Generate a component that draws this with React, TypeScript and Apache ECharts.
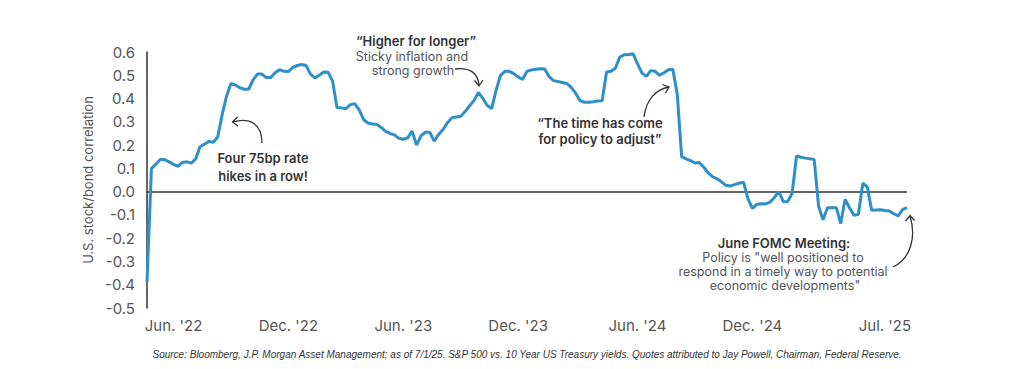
import React, { useEffect, useRef } from "react";
import * as echarts from "echarts";

// Weekly observations starting 2022-04-22
const startDate = "2022-04-22";
const correlation = [
  -0.39, 0.099, 0.118, 0.138, 0.138, 0.128, 0.117, 0.109, 0.125, 0.128,
  0.123, 0.14, 0.193, 0.204, 0.216, 0.212, 0.235, 0.33, 0.41, 0.465,
  0.458, 0.447, 0.44, 0.44, 0.48, 0.505, 0.505, 0.49, 0.49, 0.511,
  0.524, 0.517, 0.516, 0.534, 0.542, 0.546, 0.542, 0.505, 0.489, 0.5,
  0.514, 0.513, 0.475, 0.36, 0.36, 0.356, 0.374, 0.378, 0.352, 0.31,
  0.295, 0.291, 0.289, 0.276, 0.259, 0.25, 0.244, 0.229, 0.225, 0.231,
  0.26, 0.2, 0.24, 0.255, 0.255, 0.217, 0.246, 0.267, 0.296, 0.318,
  0.321, 0.324, 0.344, 0.369, 0.391, 0.426, 0.401, 0.37, 0.357, 0.435,
  0.5, 0.517, 0.517, 0.507, 0.493, 0.482, 0.517, 0.523, 0.526, 0.528,
  0.527, 0.494, 0.477, 0.473, 0.469, 0.465, 0.448, 0.423, 0.391, 0.384,
  0.384, 0.386, 0.389, 0.39, 0.514, 0.517, 0.53, 0.578, 0.588, 0.589,
  0.593, 0.55, 0.51, 0.495, 0.52, 0.517, 0.5, 0.511, 0.524, 0.526,
  0.42, 0.15, 0.141, 0.133, 0.123, 0.125, 0.105, 0.081, 0.064, 0.055,
  0.042, 0.027, 0.024, 0.03, 0.036, 0.041, -0.03, -0.072, -0.055, -0.052,
  -0.053, -0.045, -0.025, 0.0, -0.043, -0.043, -0.007, 0.153, 0.148, 0.144,
  0.141, 0.138, -0.064, -0.121, -0.069, -0.069, -0.069, -0.137, -0.033, -0.07,
  -0.102, -0.097, 0.036, 0.021, -0.08, -0.079, -0.078, -0.081, -0.083, -0.095,
  -0.104, -0.077, -0.069,
];

const tickMonths = ["2022-06", "2022-12", "2023-06", "2023-12", "2024-06", "2024-12", "2025-07"];
const tickLabels = ["Jun. '22", "Dec. '22", "Jun. '23", "Dec. '23", "Jun. '24", "Dec. '24", "Jul. '25"];

const yMin = -0.5;
const yMax = 0.6;
const yStep = 0.1;

const yAxisName = "U.S. stock/bond correlation";
const sourceNote =
  "Source: Bloomberg, J.P. Morgan Asset Management; as of 7/1/25. S&P 500 vs. 10 Year US Treasury yields. Quotes attributed to Jay Powell, Chairman, Federal Reserve.";

function buildDates(): string[] {
  const out: string[] = [];
  const t0 = Date.parse(startDate + "T00:00:00Z");
  for (let i = 0; i < correlation.length; i++) {
    out.push(new Date(t0 + i * 7 * 86400000).toISOString().slice(0, 10));
  }
  return out;
}

function tickLabelFor(d: string): string | null {
  const day = Number(d.slice(8, 10));
  if (day > 7) return null;
  const k = tickMonths.indexOf(d.slice(0, 7));
  return k >= 0 ? tickLabels[k] : null;
}

const FONT = "Inter, 'Noto Sans', sans-serif";
const INK = "#333333";

export default function App() {
  const ref = useRef<HTMLDivElement>(null);
  useEffect(() => {
    if (!ref.current) return;
    const chart = echarts.init(ref.current, undefined, { renderer: "svg" });
    const dates = buildDates();

    const boldText = (text: string, x: number, y: number, size = 13) => ({
      type: "text",
      x,
      y,
      silent: true,
      style: {
        text,
        fill: INK,
        fontSize: size,
        fontWeight: 600,
        fontFamily: FONT,
        textAlign: "center",
        textVerticalAlign: "middle",
      },
    });
    const plainText = (text: string, x: number, y: number, size = 12.5) => ({
      type: "text",
      x,
      y,
      silent: true,
      style: {
        text,
        fill: "#555555",
        fontSize: size,
        fontWeight: 400,
        fontFamily: FONT,
        textAlign: "center",
        textVerticalAlign: "middle",
      },
    });
    const curve = (x1: number, y1: number, cpx1: number, cpy1: number, cpx2: number, cpy2: number, x2: number, y2: number) => ({
      type: "bezierCurve",
      silent: true,
      shape: { x1, y1, cpx1, cpy1, cpx2, cpy2, x2, y2 },
      style: { stroke: INK, fill: "none", lineWidth: 1.3 },
    });
    const head = (pts: number[][]) => ({
      type: "polyline",
      silent: true,
      shape: { points: pts },
      style: { stroke: INK, fill: "none", lineWidth: 1.3 },
    });

    chart.setOption({
      animation: false,
      backgroundColor: "#ffffff",
      grid: { left: 147, right: 117, top: 52, bottom: 61, containLabel: false },
      xAxis: {
        type: "category",
        data: dates,
        boundaryGap: false,
        axisLine: { show: false },
        axisTick: { show: false },
        splitLine: { show: false },
        axisLabel: {
          interval: (_i: number, v: string) => tickLabelFor(v) !== null,
          formatter: (v: string) => tickLabelFor(v) || "",
          color: "#555555",
          fontSize: 15,
          fontFamily: FONT,
          margin: 10,
          hideOverlap: false,
        },
      },
      yAxis: {
        type: "value",
        min: yMin,
        max: yMax,
        interval: yStep,
        name: yAxisName,
        nameLocation: "middle",
        nameGap: 46,
        nameTextStyle: { color: "#555555", fontSize: 13, fontFamily: FONT },
        axisLine: { show: true, lineStyle: { color: INK, width: 1.5 } },
        axisTick: { show: false },
        splitLine: { show: false },
        axisLabel: {
          color: "#555555",
          fontSize: 15,
          fontFamily: FONT,
          margin: 12,
          formatter: (v: number) => v.toFixed(1),
        },
      },
      series: [
        {
          type: "line",
          data: correlation,
          showSymbol: false,
          symbol: "none",
          lineStyle: { color: "#2e8fcb", width: 3 },
          itemStyle: { color: "#2e8fcb" },
          z: 3,
          markLine: {
            silent: true,
            symbol: ["none", "none"],
            label: { show: false },
            lineStyle: { color: INK, width: 1.5, type: "solid" },
            data: [{ yAxis: 0 }],
            z: 2,
          },
        },
      ],
      graphic: [
        boldText("Four 75bp rate", 263, 158),
        boldText("hikes in a row!", 263, 176),
        curve(262, 143, 262, 124, 250, 117, 233, 122),
        head([[237.5, 117], [232.5, 122], [238, 126]]),

        boldText("\u201CHigher for longer\u201D", 416, 41),
        plainText("Sticky inflation and", 412, 56),
        plainText("strong growth", 413, 70),
        curve(455, 69, 471, 67, 478, 74, 479, 85),
        head([[474.5, 80.5], [479, 86], [483, 80]]),

        boldText("\u201CThe time has come", 600, 123),
        boldText("for policy to adjust\u201D", 600, 139),
        curve(644, 117, 646, 100, 656, 89, 669, 87),
        head([[662.5, 84.5], [669, 87], [665.5, 93]]),

        boldText("June FOMC Meeting:", 784, 243),
        plainText("Policy is \"well positioned to", 783, 257),
        plainText("respond in a timely way to potential", 783, 271),
        plainText("economic developments\"", 785, 285),
        curve(893, 267, 912, 258, 916, 235, 910, 216),
        head([[905.5, 221], [910, 215.5], [914.5, 220.5]]),

        {
          type: "text",
          x: 527,
          y: 354,
          silent: true,
          style: {
            text: sourceNote,
            fill: INK,
            fontSize: 10,
            fontStyle: "italic",
            fontFamily: "'Liberation Sans', Arial, sans-serif",
            textAlign: "center",
            textVerticalAlign: "middle",
          },
        },
      ],
    });
    return () => chart.dispose();
  }, []);

  return (
    <div
      ref={ref}
      style={{ position: "fixed", left: 0, top: 0, width: 1024, height: 369, background: "#fff" }}
    />
  );
}
